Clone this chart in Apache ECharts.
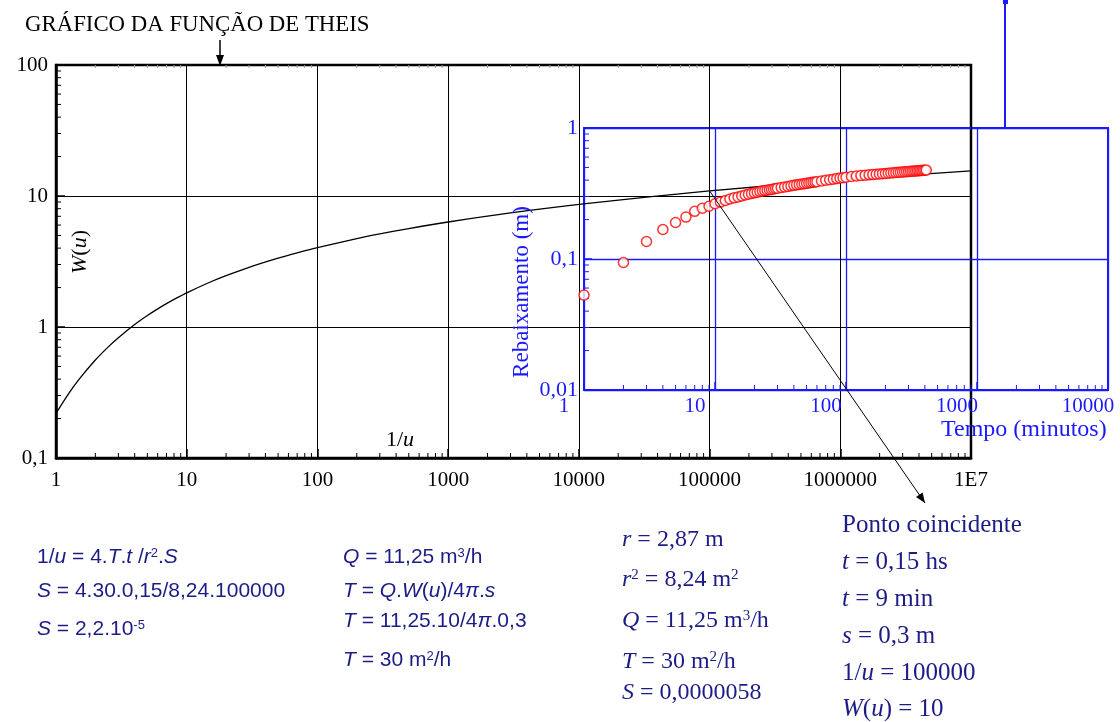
<!DOCTYPE html>
<html><head><meta charset="utf-8">
<script src="https://cdn.jsdelivr.net/npm/echarts@6/dist/echarts.min.js"></script>
<style>html,body{margin:0;padding:0;background:#fff}#c{width:1120px;height:722px}</style>
</head><body><div id="c"></div>
<script>
// Theis well function W(u) vs 1/u (tabulated values)
const invU = [1,1.25,1.5,2,2.5,3,4,5,6,7,8,10,15,20,30,50,70,100,200,300,500,1000,3000,10000,1e5,1e6,1e7];
const Wu = [0.2194,0.3106,0.3985,0.5598,0.7024,0.8290,1.0443,1.2227,1.3746,1.5068,1.6234,1.8229,2.1965,2.4679,2.8569,3.3547,3.6855,4.0379,4.7261,5.1299,5.6394,6.3315,7.4295,8.6332,10.9357,13.2383,15.5409];
// Pumping test: time (min) vs drawdown (m)
const tempoMin = [1,2,3,4,5,6,7,8,9,10,11,12,13,14,15,16,17,18,19,20,21,22,23,24,25,26,27,28,29,30,
  32,34,36,38,40,42,44,46,48,50,52,54,56,58,60,65,70,75,80,85,90,95,100,110,120,130,140,150,160,170,180,190,200,
  210,220,230,240,250,260,270,280,290,300,310,320,330,340,350,360,370,380,390,400,410];
const rebaix = [0.053,0.094,0.136,0.168,0.190,0.209,0.231,0.244,0.253,0.264,0.272,0.280,0.287,0.293,0.298,0.303,0.308,0.312,0.316,0.320,0.323,0.327,0.330,0.333,0.335,0.338,0.340,0.343,0.345,0.347,
  0.351,0.355,0.358,0.362,0.365,0.368,0.371,0.373,0.376,0.378,0.381,0.383,0.385,0.387,0.389,0.394,0.399,0.403,0.407,0.411,0.415,0.418,0.421,0.426,0.430,0.433,0.436,0.439,0.441,0.444,0.446,0.448,0.450,
  0.452,0.454,0.455,0.457,0.459,0.460,0.462,0.463,0.464,0.466,0.467,0.468,0.469,0.470,0.471,0.472,0.473,0.474,0.475,0.476,0.477];
const mainXLabels = ['1','10','100','1000','10000','100000','1000000','1E7'];
const mainYLabels = ['0,1','1','10','100'];
const insetXLabels = ['1','10','100','1000','10000'];
const insetYLabels = ['0,01','0,1','1'];

const SERIF = '"Liberation Serif","Times New Roman",serif';
const SANS = '"Liberation Sans",Arial,sans-serif';
const BLUE = '#1a1aff';
const NAVY = '#1c1c86';

function minorVals(lo, hi) {
  const out = [];
  for (let e = lo; e < hi; e++) for (let m = 2; m <= 9; m++) out.push(m * Math.pow(10, e));
  return out;
}
function lab(arr, minExp) { return v => { const k = Math.round(Math.log10(v)) - minExp; return arr[k] !== undefined ? arr[k] : ''; }; }

function minorTicks(xi, yi, vals, dir, fixed, len, color) {
  return {
    type: 'custom', xAxisIndex: xi, yAxisIndex: yi, silent: true, z: 6, clip: false,
    data: vals.map(v => dir === 'x' ? [v, fixed] : [fixed, v]),
    renderItem: (params, api) => {
      const p = api.coord([api.value(0), api.value(1)]);
      const shape = dir === 'x' ? {x1: p[0], y1: p[1], x2: p[0], y2: p[1] - len}
                                : {x1: p[0], y1: p[1], x2: p[0] + len, y2: p[1]};
      return {type: 'line', shape: shape, style: {stroke: color, lineWidth: 1}};
    }
  };
}

const chart = echarts.init(document.getElementById('c'), null, {renderer: 'canvas'});
const option = {
  animation: false,
  backgroundColor: '#fff',
  grid: [
    {left: 56, right: 149, top: 65, bottom: 264, show: true, borderColor: '#000', borderWidth: 2.5, backgroundColor: 'transparent'},
    {left: 584, right: 12, top: 128, bottom: 332, show: true, borderColor: BLUE, borderWidth: 2, backgroundColor: 'transparent'}
  ],
  xAxis: [
    {type: 'log', gridIndex: 0, min: 1, max: 1e7, interval: 1,
     axisLine: {lineStyle: {color: '#000', width: 2.5}},
     axisTick: {inside: true, length: 9, lineStyle: {color: '#000', width: 1.5}},
     axisLabel: {formatter: lab(mainXLabels, 0), color: '#000', fontFamily: SERIF, fontSize: 21, margin: 12},
     splitLine: {show: true, lineStyle: {color: '#000', width: 1}}},
    {type: 'log', gridIndex: 1, min: 1, max: 10000, interval: 1,
     axisLine: {lineStyle: {color: BLUE, width: 2}},
     axisTick: {inside: true, length: 8, lineStyle: {color: BLUE, width: 1.5}},
     axisLabel: {formatter: lab(insetXLabels, 0), color: BLUE, fontFamily: SERIF, fontSize: 21, margin: 6, padding: [0, 40, 0, 0]},
     splitLine: {show: true, lineStyle: {color: BLUE, width: 1.3}}}
  ],
  yAxis: [
    {type: 'log', gridIndex: 0, min: 0.1, max: 100, interval: 1,
     axisLine: {lineStyle: {color: '#000', width: 2.5}},
     axisTick: {inside: true, length: 9, lineStyle: {color: '#000', width: 1.5}},
     axisLabel: {formatter: lab(mainYLabels, -1), color: '#000', fontFamily: SERIF, fontSize: 21, margin: 8},
     splitLine: {show: true, lineStyle: {color: '#000', width: 1}}},
    {type: 'log', gridIndex: 1, min: 0.01, max: 1, interval: 1,
     axisLine: {lineStyle: {color: BLUE, width: 2}},
     axisTick: {inside: true, length: 8, lineStyle: {color: BLUE, width: 1.5}},
     axisLabel: {formatter: lab(insetYLabels, -2), color: BLUE, fontFamily: SERIF, fontSize: 22, margin: 6},
     splitLine: {show: true, lineStyle: {color: BLUE, width: 1.3}}}
  ],
  series: [
    {type: 'line', xAxisIndex: 0, yAxisIndex: 0, data: invU.map((x, i) => [x, Wu[i]]),
     smooth: 0.3, showSymbol: false, lineStyle: {color: '#000', width: 1.3}, z: 3},
    minorTicks(0, 0, minorVals(0, 7), 'x', 0.1, 5, '#000'),
    minorTicks(0, 0, minorVals(0, 7), 'x', 100, -3, '#999'),
    minorTicks(0, 0, minorVals(-1, 2), 'y', 1, 5, '#000'),
    minorTicks(1, 1, minorVals(0, 4), 'x', 0.01, 5, BLUE),
    minorTicks(1, 1, minorVals(-2, 0), 'y', 1, 5, BLUE),
    {type: 'scatter', xAxisIndex: 1, yAxisIndex: 1, data: tempoMin.map((t, i) => [t, rebaix[i]]),
     symbol: 'circle', symbolSize: 10,
     itemStyle: {color: '#fff', borderColor: '#ff0000', borderWidth: 1.5}, z: 10}
  ]
};
chart.setOption(option);

function txt(x, y, text, base, rich, extra) {
  const r = {};
  for (const k in rich) r[k] = Object.assign({}, base, rich[k]);
  return Object.assign({type: 'text', x: x, y: y, z: 50,
    style: Object.assign({text: text, verticalAlign: 'middle', rich: r}, base)}, extra || {});
}
function baseStyle(font, size, color) { return {fontFamily: font, fontSize: size, fill: color}; }
function richSet(size) {
  return {i: {fontStyle: 'italic'}, sup: {fontSize: Math.round(size * 0.62), verticalAlign: 'top'}};
}

const sansB = baseStyle(SANS, 21, NAVY), sansR = richSet(21);
const ser3B = baseStyle(SERIF, 24, NAVY), ser3R = richSet(24);
const ser4B = baseStyle(SERIF, 25, NAVY), ser4R = richSet(25);
const blkB = baseStyle(SERIF, 22, '#000'), blkR = richSet(22);

const p0 = chart.convertToPixel({gridIndex: 0}, [1e5, 10.9357]);
const p1 = [925, 503];
const ang = Math.atan2(p1[1] - p0[1], p1[0] - p0[0]);
const ah = 10, aw = 4;
const head = [p1,
  [p1[0] - ah * Math.cos(ang) + aw * Math.sin(ang), p1[1] - ah * Math.sin(ang) - aw * Math.cos(ang)],
  [p1[0] - ah * Math.cos(ang) - aw * Math.sin(ang), p1[1] - ah * Math.sin(ang) + aw * Math.cos(ang)]];

const graphics = [
  txt(25, 25, 'GRÁFICO DA FUNÇÃO DE THEIS', baseStyle(SERIF, 22.8, '#000'), {}),
  {type: 'line', z: 50, shape: {x1: 220, y1: 40, x2: 220, y2: 58}, style: {stroke: '#000', lineWidth: 1.5}},
  {type: 'polygon', z: 50, shape: {points: [[216, 55], [224, 55], [220, 66]]}, style: {fill: '#000'}},
  {type: 'line', z: 50, shape: {x1: 1005, y1: 0, x2: 1005, y2: 128}, style: {stroke: BLUE, lineWidth: 2}},
  {type: 'rect', z: 50, shape: {x: 1003, y: 0, width: 5, height: 4}, style: {fill: BLUE}},
  {type: 'line', z: 50, shape: {x1: p0[0], y1: p0[1], x2: p1[0], y2: p1[1]}, style: {stroke: '#000', lineWidth: 1}},
  {type: 'polygon', z: 50, shape: {points: head}, style: {fill: '#000'}},
  {type: 'text', x: 80, y: 252, z: 50, rotation: Math.PI / 2,
   style: Object.assign({text: '{i|W}({i|u})', align: 'center', verticalAlign: 'middle', rich: {i: Object.assign({}, blkB, {fontStyle: 'italic'})}}, blkB)},
  txt(386, 440, '1/{i|u}', blkB, blkR),
  txt(941, 430, 'Tempo (minutos)', baseStyle(SERIF, 24, BLUE), {}),
  {type: 'text', x: 522, y: 292, z: 50, rotation: Math.PI / 2,
   style: Object.assign({text: 'Rebaixamento (m)', align: 'center', verticalAlign: 'middle'}, baseStyle(SERIF, 23, BLUE))},
  // left formulas (sans)
  txt(37, 557, '1/{i|u} = 4.{i|T}.{i|t} /{i|r}{sup|2}.{i|S}', sansB, sansR),
  txt(37, 591, '{i|S} = 4.30.0,15/8,24.100000', sansB, sansR),
  txt(37, 629, '{i|S} = 2,2.10{sup|-5}', sansB, sansR),
  txt(343, 557, '{i|Q} = 11,25 m{sup|3}/h', sansB, sansR),
  txt(343, 591, '{i|T} = {i|Q}.{i|W}({i|u})/4{i|π}.{i|s}', sansB, sansR),
  txt(343, 621, '{i|T} = 11,25.10/4{i|π}.0,3', sansB, sansR),
  txt(343, 660, '{i|T} = 30 m{sup|2}/h', sansB, sansR),
  // serif block 3
  txt(622, 540, '{i|r} = 2,87 m', ser3B, ser3R),
  txt(622, 580, '{i|r}{sup|2} = 8,24 m{sup|2}', ser3B, ser3R),
  txt(622, 621, '{i|Q} = 11,25 m{sup|3}/h', ser3B, ser3R),
  txt(622, 662, '{i|T} = 30 m{sup|2}/h', ser3B, ser3R),
  txt(622, 693, '{i|S} = 0,0000058', ser3B, ser3R),
  // serif block 4
  txt(842, 525, 'Ponto coincidente', ser4B, ser4R),
  txt(842, 562, '{i|t} = 0,15 hs', ser4B, ser4R),
  txt(842, 599, '{i|t} = 9 min', ser4B, ser4R),
  txt(842, 636, '{i|s} = 0,3 m', ser4B, ser4R),
  txt(842, 673, '1/{i|u} = 100000', ser4B, ser4R),
  txt(842, 709, '{i|W}({i|u}) = 10', ser4B, ser4R)
];
chart.setOption({graphic: graphics});
</script></body></html>
